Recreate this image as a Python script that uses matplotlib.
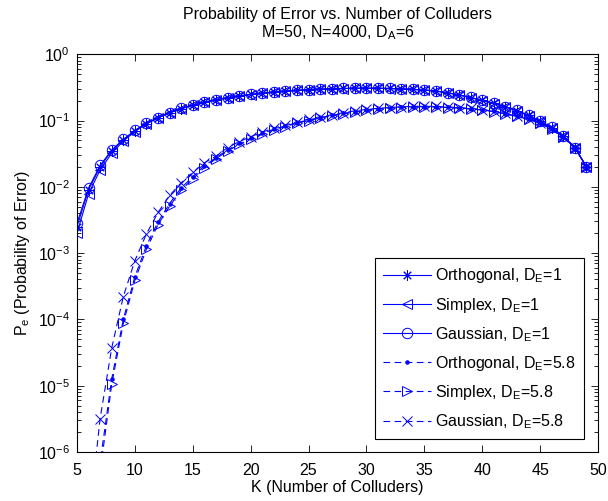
import matplotlib
matplotlib.use("Agg")
import matplotlib.pyplot as plt

plt.rcParams["font.family"] = ["Liberation Sans", "DejaVu Sans"]
plt.rcParams["mathtext.fontset"] = "custom"
plt.rcParams["mathtext.rm"] = "Liberation Sans"
plt.rcParams["mathtext.it"] = "Liberation Sans:italic"
plt.rcParams["mathtext.default"] = "regular"
plt.rcParams["font.size"] = 11.5

# Number of colluders K
colluders = list(range(5, 50))

# D_E = 1
orth_de1 = [2.5e-3, 9.0e-3, 0.020, 0.035, 0.051, 0.070, 0.090, 0.110, 0.131, 0.151,
            0.170, 0.188, 0.205, 0.220, 0.234, 0.247, 0.258, 0.268, 0.277, 0.285,
            0.292, 0.297, 0.301, 0.304, 0.306, 0.307, 0.306, 0.304, 0.300, 0.295,
            0.288, 0.278, 0.262, 0.243, 0.222, 0.201, 0.181, 0.161, 0.141, 0.119,
            0.098, 0.078, 0.058, 0.039, 0.020]
simp_de1 = [2.0e-3, 7.8e-3, 0.018, 0.032, 0.049, 0.068, 0.089, 0.109, 0.130, 0.150,
            0.169, 0.187, 0.204, 0.219, 0.233, 0.246, 0.257, 0.267, 0.276, 0.284,
            0.291, 0.296, 0.300, 0.303, 0.305, 0.306, 0.305, 0.303, 0.299, 0.294,
            0.287, 0.277, 0.261, 0.242, 0.221, 0.200, 0.180, 0.160, 0.140, 0.118,
            0.097, 0.078, 0.058, 0.039, 0.020]
gaus_de1 = [2.8e-3, 9.6e-3, 0.021, 0.036, 0.052, 0.071, 0.091, 0.111, 0.132, 0.152,
            0.171, 0.189, 0.206, 0.221, 0.235, 0.248, 0.259, 0.269, 0.278, 0.286,
            0.293, 0.298, 0.302, 0.305, 0.307, 0.308, 0.307, 0.305, 0.301, 0.296,
            0.289, 0.279, 0.263, 0.244, 0.223, 0.202, 0.182, 0.162, 0.142, 0.120,
            0.099, 0.079, 0.058, 0.039, 0.020]

# D_E = 5.8
orth_de58 = [1e-11, 5e-9, 7e-7, 1.26e-5, 1.0e-4, 4.4e-4, 1.3e-3, 2.95e-3, 5.6e-3, 9.6e-3,
             0.0142, 0.0207, 0.0275, 0.036, 0.045, 0.054, 0.064, 0.074, 0.083, 0.093,
             0.102, 0.111, 0.119, 0.128, 0.136, 0.144, 0.150, 0.155, 0.159, 0.161,
             0.162, 0.161, 0.158, 0.155, 0.150, 0.145, 0.137, 0.127, 0.116, 0.105,
             0.092, 0.075, 0.057, 0.039, 0.020]
simp_de58 = [1e-12, 1e-9, 5e-7, 1.05e-5, 8.7e-5, 3.9e-4, 1.15e-3, 2.7e-3, 5.1e-3, 8.9e-3,
             0.0132, 0.0195, 0.0265, 0.0345, 0.0435, 0.0525, 0.062, 0.072, 0.081, 0.091,
             0.100, 0.109, 0.117, 0.126, 0.134, 0.142, 0.148, 0.153, 0.157, 0.159,
             0.160, 0.159, 0.157, 0.154, 0.149, 0.144, 0.136, 0.126, 0.115, 0.104,
             0.091, 0.074, 0.057, 0.039, 0.020]
gaus_de58 = [1e-10, 8e-8, 3.2e-6, 3.7e-5, 2.2e-4, 7.7e-4, 1.95e-3, 4.1e-3, 7.4e-3, 0.0115,
             0.0165, 0.023, 0.029, 0.039, 0.048, 0.057, 0.067, 0.077, 0.086, 0.096,
             0.105, 0.114, 0.122, 0.131, 0.140, 0.147, 0.153, 0.157, 0.161, 0.163,
             0.164, 0.163, 0.160, 0.157, 0.152, 0.146, 0.138, 0.128, 0.117, 0.106,
             0.093, 0.076, 0.057, 0.039, 0.020]

fig = plt.figure(figsize=(6.08, 5.01), dpi=100)
ax = fig.add_axes([0.1266, 0.0978, 0.857, 0.794])

blue = (0, 0, 1)
lw = 0.8
dash = (0, (6, 4))
ms = 7.5
asterisk = (8, 2, 0)

ax.plot(colluders, orth_de1, color=blue, lw=lw, ls="-", marker=asterisk, ms=ms,
        mew=0.7, label="Orthogonal, D$_E$=1")
ax.plot(colluders, simp_de1, color=blue, lw=lw, ls="-", marker="<", ms=ms,
        mfc="none", mew=0.7, label="Simplex, D$_E$=1")
ax.plot(colluders, gaus_de1, color=blue, lw=lw, ls="-", marker="o", ms=ms,
        mfc="none", mew=0.7, label="Gaussian, D$_E$=1")
ax.plot(colluders, orth_de58, color=blue, lw=lw, ls=dash, marker=".", ms=5,
        mew=0.7, label="Orthogonal, D$_E$=5.8")
ax.plot(colluders, simp_de58, color=blue, lw=lw, ls=dash, marker=">", ms=ms,
        mfc="none", mew=0.7, label="Simplex, D$_E$=5.8")
ax.plot(colluders, gaus_de58, color=blue, lw=lw, ls=dash, marker="x", ms=6.5,
        mew=0.7, label="Gaussian, D$_E$=5.8")

ax.set_yscale("log")
ax.set_xlim(5, 50)
ax.set_ylim(1e-6, 1e0)
ax.set_xticks(range(5, 51, 5))
ax.tick_params(which="both", direction="in", top=True, right=True, width=0.6)
ax.tick_params(which="major", length=5)
ax.tick_params(axis="x", which="major", pad=8)
ax.tick_params(axis="y", which="major", pad=5)
ax.tick_params(which="minor", length=3)
ax.xaxis.offsetText.set_visible(False)
ax.yaxis.offsetText.set_visible(False)
for s in ax.spines.values():
    s.set_linewidth(0.8)

ax.set_title("Probability of Error vs. Number of Colluders\nM=50, N=4000, D$_A$=6",
             fontsize=11.5, pad=12, linespacing=1.1)
ax.set_xlabel("K (Number of Colluders)", labelpad=1)
ax.set_ylabel("P$_e$ (Probability of Error)", labelpad=4)

leg = ax.legend(loc="lower right", bbox_to_anchor=(0.973, 0.033), borderaxespad=0,
                fancybox=False, framealpha=1, edgecolor="black",
                handlelength=3.0, labelspacing=0.64, handletextpad=0.3,
                borderpad=0.5)
leg.get_frame().set_linewidth(0.8)

fig.savefig("out.png", dpi=100)
